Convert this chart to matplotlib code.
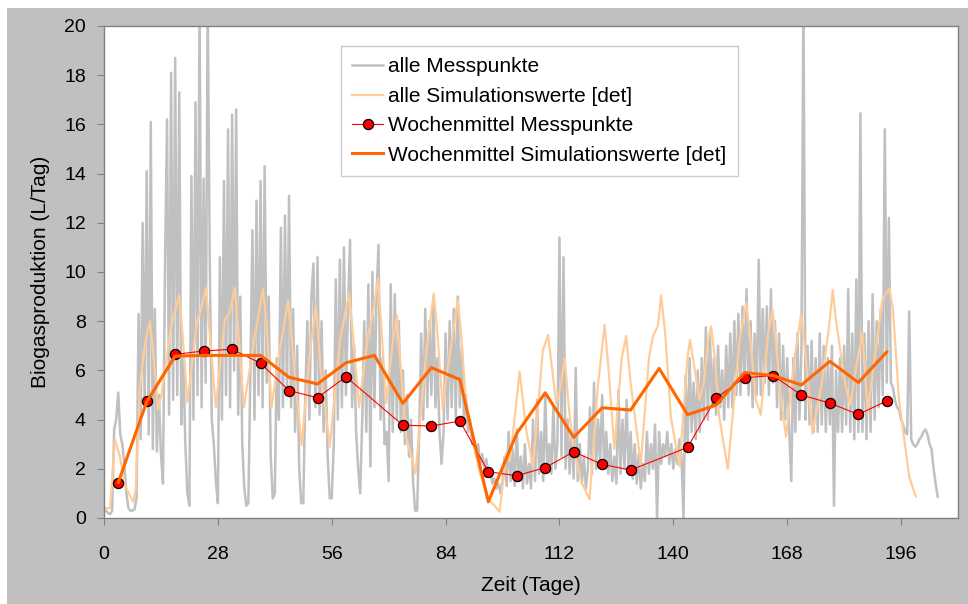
import matplotlib.pyplot as plt
import numpy as np
from matplotlib.patches import Rectangle

plt.rcParams['font.family'] = ['Liberation Sans', 'DejaVu Sans']

# alle Messpunkte, read on a half-day grid starting at day 0
gray_step = 0.5
gray_vals = [
    0.3, 0.3, 0.2, 0.15, 0.3, 3.6, 4.0, 5.1, 3.4, 3.0, 2.2, 1.0, 0.4, 0.3,
    0.3, 0.35, 0.8, 8.3, 3.2, 12.0, 4.6, 14.1, 3.4, 16.1, 2.8, 8.5, 2.7, 5.0,
    2.6, 1.4, 10.2, 16.2, 4.2, 18.1, 4.8, 18.7, 5.0, 17.3, 3.8, 6.5, 3.0, 1.0,
    0.5, 13.9, 4.0, 16.9, 5.0, 21.0, 4.5, 13.8, 5.5, 21.0, 10.5, 4.0, 3.0, 1.5,
    0.6, 10.6, 4.0, 13.7, 5.0, 15.8, 4.5, 16.4, 6.0, 16.6, 4.2, 9.0, 3.0, 1.2,
    0.5, 0.6, 6.0, 11.7, 4.0, 12.9, 5.0, 13.7, 4.5, 14.3, 5.5, 9.0, 2.5, 0.8,
    1.0, 6.5, 4.0, 11.8, 4.5, 12.3, 5.0, 13.1, 4.5, 8.5, 3.5, 7.0, 2.0, 0.6,
    0.6, 5.0, 8.0, 4.0, 9.0, 10.35, 4.5, 10.6, 4.2, 8.0, 3.5, 6.0, 2.5, 0.8,
    0.8, 3.0, 9.7, 4.0, 10.5, 4.5, 11.0, 5.0, 8.5, 11.3, 4.5, 7.0, 3.5, 2.0,
    1.0, 4.0, 8.0, 3.5, 9.5, 2.1, 10.0, 4.5, 9.0, 11.1, 4.0, 6.5, 3.0, 3.5,
    1.5, 9.5, 3.5, 9.1, 4.0, 8.0, 3.5, 6.0, 3.0, 5.0, 2.5, 4.0, 1.5, 0.3,
    0.3, 3.5, 7.5, 4.0, 8.5, 4.5, 8.0, 5.0, 9.0, 4.5, 6.5, 3.5, 2.2, 3.5,
    7.5, 4.0, 8.0, 4.5, 8.5, 4.0, 9.0, 4.5, 7.0, 4.0, 5.0, 3.5, 4.0, 3.0,
    3.2, 2.5, 3.0, 2.2, 2.6, 2.0, 2.4, 1.8, 2.0, 1.4, 1.6, 1.2, 1.4, 1.0,
    1.5, 2.5, 1.3, 3.5, 1.5, 2.8, 1.3, 3.6, 1.5, 2.5, 1.2, 3.0, 1.4, 2.2,
    1.2, 4.0, 1.5, 4.8, 1.8, 3.5, 1.5, 5.0, 2.0, 3.0, 1.8, 4.5, 2.0, 3.0,
    11.4, 2.5, 10.6, 2.0, 4.0, 1.8, 3.5, 1.6, 6.1, 1.5, 3.0, 1.4, 2.5, 1.2,
    2.0, 4.5, 1.8, 5.5, 2.0, 4.0, 2.2, 5.0, 2.0, 3.5, 1.8, 3.0, 1.5, 2.5,
    1.4, 5.2, 1.8, 4.0, 2.0, 4.8, 1.8, 3.5, 1.6, 3.0, 1.4, 2.6, 1.2, 2.2,
    1.5, 3.5, 1.8, 3.0, 2.0, 3.8, 0.0, 3.5, 2.2, 3.0, 2.5, 3.5, 2.2, 3.0,
    2.0, 2.8, 2.2, 3.2, 2.5, 0.0, 5.8, 3.0, 6.5, 3.5, 5.5, 3.2, 6.0, 3.5,
    6.5, 4.0, 7.75, 4.0, 7.4, 4.5, 6.5, 4.2, 7.0, 4.5, 6.0, 4.0, 7.0, 4.5,
    7.5, 4.5, 8.0, 5.0, 8.3, 5.0, 8.6, 5.5, 9.3, 5.0, 8.0, 4.5, 7.5, 5.0,
    10.5, 5.0, 8.5, 5.5, 8.6, 5.0, 9.3, 5.5, 8.0, 4.5, 7.5, 4.0, 7.0, 4.0,
    6.5, 3.5, 1.5, 6.5, 3.5, 7.5, 4.0, 6.8, 21.0, 4.0, 7.0, 3.8, 7.2, 3.5,
    6.5, 3.5, 7.5, 3.8, 7.0, 3.5, 6.5, 3.8, 7.0, 0.5, 6.0, 3.5, 6.5, 3.5,
    7.0, 3.8, 9.3, 3.5, 7.5, 3.2, 9.7, 3.5, 16.45, 3.5, 7.5, 3.2, 8.0, 3.5,
    9.1, 4.0, 8.0, 4.5, 8.5, 5.0, 15.8, 5.5, 12.2, 5.5, 5.3, 4.8, 4.5, 4.4,
    4.0, 3.8, 3.5, 3.4, 8.4, 3.2, 3.0, 2.9, 3.0, 3.2, 3.3, 3.5, 3.6, 3.4,
    3.0, 2.8, 2.0, 1.4, 0.87,
]

# alle Simulationswerte [det]
sim_days = [0.25, 1.5, 2.7, 3.9, 5.2, 7.2, 7.8, 8.8, 10.2, 11.3, 12.1, 13.3, 14.2,
            16.5, 18.5, 19.3, 20.5, 22.8, 23.7, 25.1, 26.0, 27.5, 29.7, 30.8, 32.2,
            33.0, 34.4, 37.1, 39.1, 39.9, 41.2, 43.2, 45.3, 46.2, 47.3, 48.6, 50.6,
            52.1, 53.3, 55.5, 58.0, 60.3, 61.2, 62.7, 64.9, 66.0, 67.4, 68.3, 69.4,
            70.8, 72.0, 72.8, 74.3, 76.6, 79.3, 81.1, 82.0, 83.3, 84.0, 87.0, 87.8,
            89.1, 92.4, 94.8, 97.3, 98.9, 99.8, 102.2, 103.8, 105.5, 107.9, 109.2,
            111.2, 112.2, 113.3, 114.3, 115.3, 117.3, 119.4, 121.4, 123.1, 124.1,
            125.5, 127.3, 128.4, 129.5, 132.0, 134.0, 135.0, 136.2, 137.0, 138.0,
            139.4, 141.5, 143.5, 144.1, 145.0, 146.4, 147.5, 148.5, 149.3, 150.2,
            151.3, 153.4, 156.2, 157.9, 158.8, 160.3, 161.5, 163.3, 164.4, 165.3,
            166.5, 167.7, 169.8, 171.4, 172.3, 174.2, 176.5, 178.3, 179.2, 180.0,
            182.4, 183.5, 185.0, 186.5, 187.8, 189.5, 191.4, 193.1, 194.0, 195.5,
            198.0, 199.6]
sim_vals = [0.4, 0.4, 3.2, 2.5, 1.3, 0.65, 1.2, 5.3, 7.2, 8.0, 6.7, 4.4, 5.1,
            7.8, 9.05, 7.5, 4.7, 7.9, 8.4, 9.35, 7.5, 4.5, 8.05, 8.3, 9.35,
            7.6, 4.5, 7.4, 9.3, 8.0, 4.5, 6.8, 8.85, 7.2, 5.1, 2.96, 6.7,
            8.6, 6.0, 2.9, 7.2, 9.13, 7.5, 4.5, 7.4, 8.2, 9.74, 7.5, 4.66,
            6.9, 8.25, 6.5, 3.3, 1.82, 6.83, 9.13, 7.5, 4.4, 5.5, 8.86, 7.5,
            4.5, 1.82, 0.73, 0.26, 2.64, 2.3, 5.95, 3.6, 2.1, 6.8, 7.44,
            4.66, 5.3, 6.5, 4.5, 3.0, 1.5, 0.75, 5.3, 7.85, 6.0,
            2.8, 6.5, 7.4, 5.5, 2.2, 6.5, 7.4, 7.8, 9.06, 7.5,
            4.1, 2.1, 6.56, 7.24, 6.3, 4.8, 5.5, 7.2, 7.78, 6.5,
            4.1, 2.0, 7.1, 8.73, 7.5, 4.8, 4.2, 7.5, 8.46, 7.0,
            4.8, 3.3, 6.5, 8.25, 7.0, 3.44, 5.5, 7.78, 9.27, 8.0,
            5.34, 4.6, 6.2, 7.5, 4.3, 6.5, 8.86, 9.34, 8.5, 4.8,
            1.68, 0.87]

# Wochenmittel Messpunkte
mess_days = [3.5, 10.5, 17.5, 24.5, 31.5, 38.5, 45.5, 52.5, 59.5, 73.5, 80.5, 87.5,
             94.5, 101.5, 108.5, 115.5, 122.5, 129.5, 143.5, 150.5, 157.5, 164.5,
             171.5, 178.5, 185.5, 192.5]
mess_vals = [1.44, 4.76, 6.65, 6.79, 6.86, 6.29, 5.18, 4.89, 5.74, 3.77, 3.74, 3.94,
             1.88, 1.72, 2.05, 2.69, 2.18, 1.95, 2.87, 4.88, 5.70, 5.79,
             5.0, 4.67, 4.21, 4.76]

# Wochenmittel Simulationswerte [det]
simw_days = [3.5, 10.5, 17.5, 24.5, 31.5, 38.5, 45.5, 52.5, 59.5, 66.5, 73.5, 80.5,
             87.5, 94.5, 101.5, 108.5, 115.5, 122.5, 129.5, 136.5, 143.5, 150.5,
             157.5, 164.5, 171.5, 178.5, 185.5, 192.5]
simw_vals = [1.44, 4.72, 6.58, 6.61, 6.61, 6.61, 5.72, 5.45, 6.31, 6.61, 4.66, 6.11,
             5.63, 0.66, 3.44, 5.09, 3.28, 4.48, 4.39, 6.08, 4.2, 4.59,
             5.91, 5.79, 5.41, 6.37, 5.51, 6.75]

gray_days = np.arange(len(gray_vals)) * gray_step

fig = plt.figure(figsize=(9.68, 6.04), dpi=100, facecolor='white')
bg = Rectangle((7 / 968, 0), 1, 1 - 8 / 604, transform=fig.transFigure,
               facecolor='#C0C0C0', edgecolor='none', zorder=-10)
fig.patches.append(bg)
ax = fig.add_axes([104 / 968, 1 - 518 / 604, (958 - 104) / 968, (518 - 26) / 604])
ax.set_facecolor('white')

ax.plot(gray_days, gray_vals, color='#C0C0C0', lw=1.8, label='alle Messpunkte')
ax.plot(sim_days, sim_vals, color='#FFCC99', lw=1.6, label='alle Simulationswerte [det]')
ax.plot(mess_days, mess_vals, color='#FF0000', lw=0.8, marker='o', ms=7.3,
        mfc='#FF0000', mec='black', mew=0.9, label='Wochenmittel Messpunkte')
ax.plot(simw_days, simw_vals, color='#FF6600', lw=2.2,
        label='Wochenmittel Simulationswerte [det]')

ax.set_xlim(0, 210)
ax.set_ylim(0, 20)
ax.set_xticks(np.arange(0, 197, 28))
ax.set_yticks(np.arange(0, 21, 2))
for s in ax.spines.values():
    s.set_color('#808080')
    s.set_linewidth(1)
ax.tick_params(axis='both', direction='out', length=5, color='#808080',
               labelsize=14, labelcolor='black')
ax.tick_params(axis='x', pad=15)
ax.tick_params(axis='y', pad=8)

ax.set_xlabel('Zeit (Tage)', fontsize=15)
ax.set_ylabel('Biogasproduktion (L/Tag)', fontsize=15)
ax.xaxis.set_label_coords(0.5, -0.117)
ax.yaxis.set_label_coords(-0.063, 0.5)

leg = ax.legend(loc='upper left', bbox_to_anchor=((341 - 104) / 854, (518 - 46) / 492),
                borderaxespad=0, fontsize=15, frameon=True, fancybox=False,
                edgecolor='#BFBFBF', handlelength=1.45, handletextpad=0.25,
                labelspacing=0.5, borderpad=0.55)
leg.get_frame().set_linewidth(1)

fig.savefig('out.png', dpi=100, facecolor=fig.get_facecolor())
